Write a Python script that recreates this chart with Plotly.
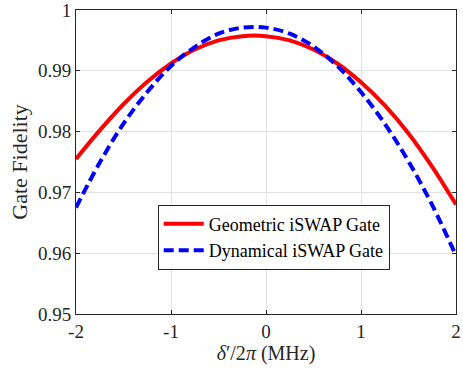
import plotly.graph_objects as go

x_vals = [-2, -1.75, -1.5, -1.25, -1, -0.75, -0.5, -0.25, 0, 0.25, 0.5, 0.75, 1, 1.25, 1.5, 1.75, 2]
geometric = [0.9755, 0.9802, 0.9845, 0.9882, 0.9912, 0.9935, 0.9950, 0.9957, 0.9957,
             0.9950, 0.9935, 0.9912, 0.9881, 0.9843, 0.9797, 0.9742, 0.9680]
dynamical = [0.9675, 0.9749, 0.9813, 0.9865, 0.9908, 0.9939, 0.9961, 0.9971, 0.9971,
             0.9961, 0.9940, 0.9908, 0.9865, 0.9813, 0.9751, 0.9679, 0.9596]

x_ticks = [-2, -1, 0, 1, 2]
x_ticktext = ["-2", "-1", "0", "1", "2"]
y_ticks = [0.95, 0.96, 0.97, 0.98, 0.99, 1.0]
y_ticktext = ["0.95", "0.96", "0.97", "0.98", "0.99", "1"]

font_family = "Liberation Serif"

fig = go.Figure()
fig.add_trace(go.Scatter(x=x_vals, y=geometric, mode="lines", name="Geometric iSWAP Gate",
                         line=dict(color="#ff0000", width=4, shape="spline")))
fig.add_trace(go.Scatter(x=x_vals, y=dynamical, mode="lines", name="Dynamical iSWAP Gate",
                         line=dict(color="#0000ff", width=4, dash="10px,5px", shape="spline")))

axis_common = dict(showline=True, linecolor="#262626", linewidth=1, mirror="ticks",
                   ticks="inside", ticklen=4, tickcolor="#262626",
                   showgrid=True, gridcolor="#e3e3e3", gridwidth=1, zeroline=False,
                   ticklabeloverflow="allow", automargin=False,
                   tickfont=dict(family=font_family, size=19, color="#262626"))

fig.update_layout(
    width=463, height=381,
    margin=dict(l=76, r=7, t=10, b=67),
    paper_bgcolor="white", plot_bgcolor="white",
    font=dict(family=font_family, color="#262626"),
    xaxis=dict(range=[-2, 2], tickvals=x_ticks, ticktext=x_ticktext,
               title=dict(text="<i>δ</i>′/2<i>π</i> (MHz)", font=dict(family=font_family, size=20, color="#262626"),
                          standoff=4),
               **axis_common),
    yaxis=dict(range=[0.95, 1.0], tickvals=y_ticks, ticktext=y_ticktext,
               title=dict(text="Gate Fidelity", font=dict(family=font_family, size=22, color="#262626"),
                          standoff=4),
               **axis_common),
    legend=dict(x=0.215, y=0.36, xanchor="left", yanchor="top",
                bgcolor="white", bordercolor="#262626", borderwidth=1,
                font=dict(family=font_family, size=18, color="#000000"),
                tracegroupgap=0, itemwidth=40),
    showlegend=True,
)

fig.write_html("out.html")
